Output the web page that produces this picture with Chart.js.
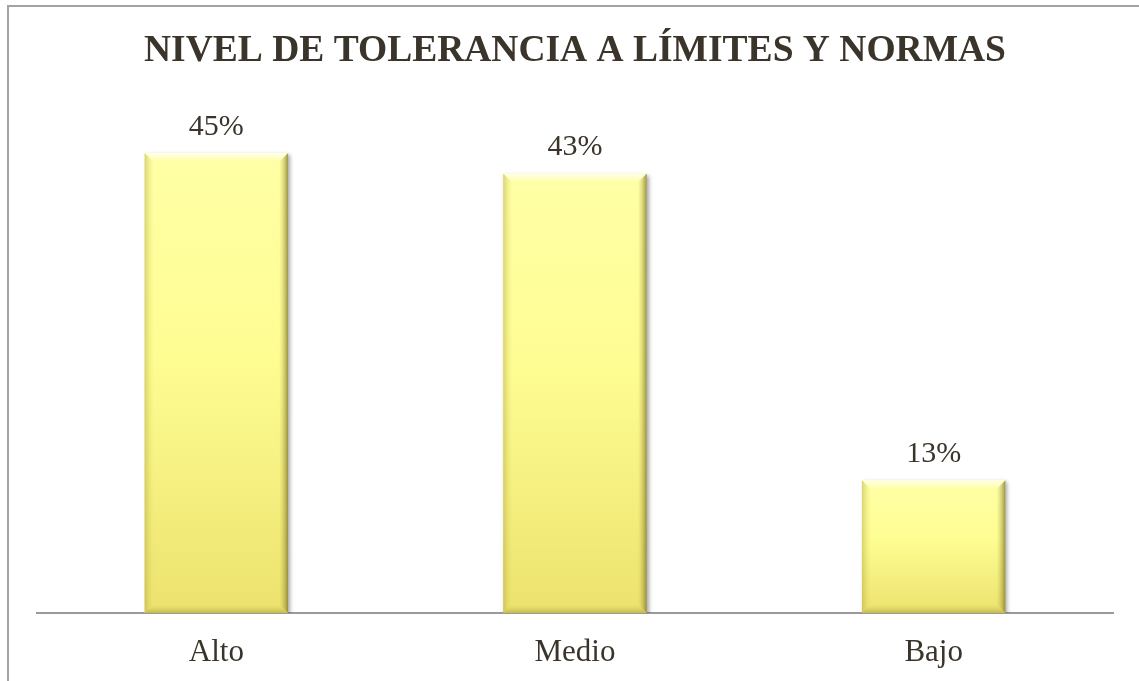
<!DOCTYPE html>
<html>
<head>
<meta charset="utf-8">
<script src="https://cdn.jsdelivr.net/npm/chart.js@4"></script>
<style>
  html, body { margin: 0; padding: 0; background: #fff; overflow: hidden; }
  #wrap { position: relative; width: 1139px; height: 681px; }
  #frame {
    position: absolute; left: 7px; top: 5px; right: -20px; bottom: -20px;
    border-left: 2px solid #a3a3a3; border-top: 2px solid #a3a3a3;
  }
  canvas { position: absolute; left: 0; top: 0; }
</style>
</head>
<body>
<div id="wrap">
  <div id="frame"></div>
  <canvas id="chart" width="1139" height="681"></canvas>
</div>
<script>
const categories = ['Alto', 'Medio', 'Bajo'];
const percentages = [45, 43, 13];
const chartTitle = 'NIVEL DE TOLERANCIA A LÍMITES Y NORMAS';

const serif = "'Liberation Serif', 'Times New Roman', serif";
const textColor = '#3a342b';

// vertical fill for one bar, light at the top and warmer toward the base
function barFill(context) {
    const chart = context.chart;
    if (!chart.chartArea) return '#fbf68c';
    const y = chart.scales.y;
    const top = y.getPixelForValue(context.raw);
    const bottom = y.getPixelForValue(0);
    const g = chart.ctx.createLinearGradient(0, top, 0, bottom);
    g.addColorStop(0, '#ffffa6');
    g.addColorStop(0.45, '#fefd92');
    g.addColorStop(1, '#ece26e');
    return g;
}

// soft shadow under the bars, bevel edges on top and the percentage above each bar
const barDecor = {
    id: 'barDecor',
    beforeDatasetsDraw(chart) {
        const ctx = chart.ctx;
        ctx.save();
        ctx.shadowColor = 'rgba(0, 0, 0, 0.35)';
        ctx.shadowBlur = 4;
        ctx.shadowOffsetX = 2;
        ctx.shadowOffsetY = 2;
    },
    afterDatasetsDraw(chart) {
        const ctx = chart.ctx;
        ctx.restore();
        const meta = chart.getDatasetMeta(0);
        meta.data.forEach((bar, i) => {
            const left = bar.x - bar.width / 2;
            const right = bar.x + bar.width / 2;
            const top = bar.y;
            const bottom = bar.base;
            const b = 9;

            ctx.save();
            // top highlight
            let g = ctx.createLinearGradient(0, top, 0, top + b);
            g.addColorStop(0, 'rgba(255,255,235,0.95)');
            g.addColorStop(1, 'rgba(255,255,235,0)');
            ctx.fillStyle = g;
            ctx.beginPath();
            ctx.moveTo(left, top); ctx.lineTo(right, top);
            ctx.lineTo(right - b, top + b); ctx.lineTo(left + b, top + b);
            ctx.closePath(); ctx.fill();

            // right edge, darker
            g = ctx.createLinearGradient(right, 0, right - b, 0);
            g.addColorStop(0, 'rgba(120,112,40,0.75)');
            g.addColorStop(1, 'rgba(200,190,80,0)');
            ctx.fillStyle = g;
            ctx.beginPath();
            ctx.moveTo(right, top); ctx.lineTo(right, bottom);
            ctx.lineTo(right - b, bottom - b); ctx.lineTo(right - b, top + b);
            ctx.closePath(); ctx.fill();

            // left edge, lightly shaded
            g = ctx.createLinearGradient(left, 0, left + b, 0);
            g.addColorStop(0, 'rgba(170,160,60,0.45)');
            g.addColorStop(1, 'rgba(220,210,90,0)');
            ctx.fillStyle = g;
            ctx.beginPath();
            ctx.moveTo(left, top); ctx.lineTo(left + b, top + b);
            ctx.lineTo(left + b, bottom - b); ctx.lineTo(left, bottom);
            ctx.closePath(); ctx.fill();

            // bottom edge
            g = ctx.createLinearGradient(0, bottom, 0, bottom - b);
            g.addColorStop(0, 'rgba(160,150,50,0.55)');
            g.addColorStop(1, 'rgba(220,210,90,0)');
            ctx.fillStyle = g;
            ctx.beginPath();
            ctx.moveTo(left, bottom); ctx.lineTo(right, bottom);
            ctx.lineTo(right - b, bottom - b); ctx.lineTo(left + b, bottom - b);
            ctx.closePath(); ctx.fill();

            // value label
            ctx.fillStyle = textColor;
            ctx.font = '30px ' + serif;
            ctx.textAlign = 'center';
            ctx.textBaseline = 'middle';
            ctx.fillText(percentages[i] + '%', bar.x, top - 26);
            ctx.restore();
        });
    }
};

new Chart(document.getElementById('chart').getContext('2d'), {
    type: 'bar',
    data: {
        labels: categories,
        datasets: [{
            data: percentages,
            backgroundColor: barFill,
            borderWidth: 0,
            barPercentage: 0.4,
            categoryPercentage: 1
        }]
    },
    options: {
        responsive: false,
        animation: false,
        layout: { padding: { left: 37, right: 26, top: 0, bottom: 0 } },
        plugins: {
            legend: { display: false },
            tooltip: { enabled: false },
            title: {
                display: true,
                text: chartTitle,
                color: textColor,
                font: { family: serif, size: 37.5, weight: 'bold' },
                padding: { top: 29, bottom: 28 }
            }
        },
        scales: {
            x: {
                grid: { display: false, drawTicks: false },
                border: { color: '#9a9a9a', width: 2 },
                ticks: {
                    color: textColor,
                    font: { family: serif, size: 31 },
                    padding: 21
                },
                afterFit(scale) {
                    scale.height = 68;
                }
            },
            y: {
                display: false,
                min: 0,
                max: 50
            }
        }
    },
    plugins: [barDecor]
});
</script>
</body>
</html>
